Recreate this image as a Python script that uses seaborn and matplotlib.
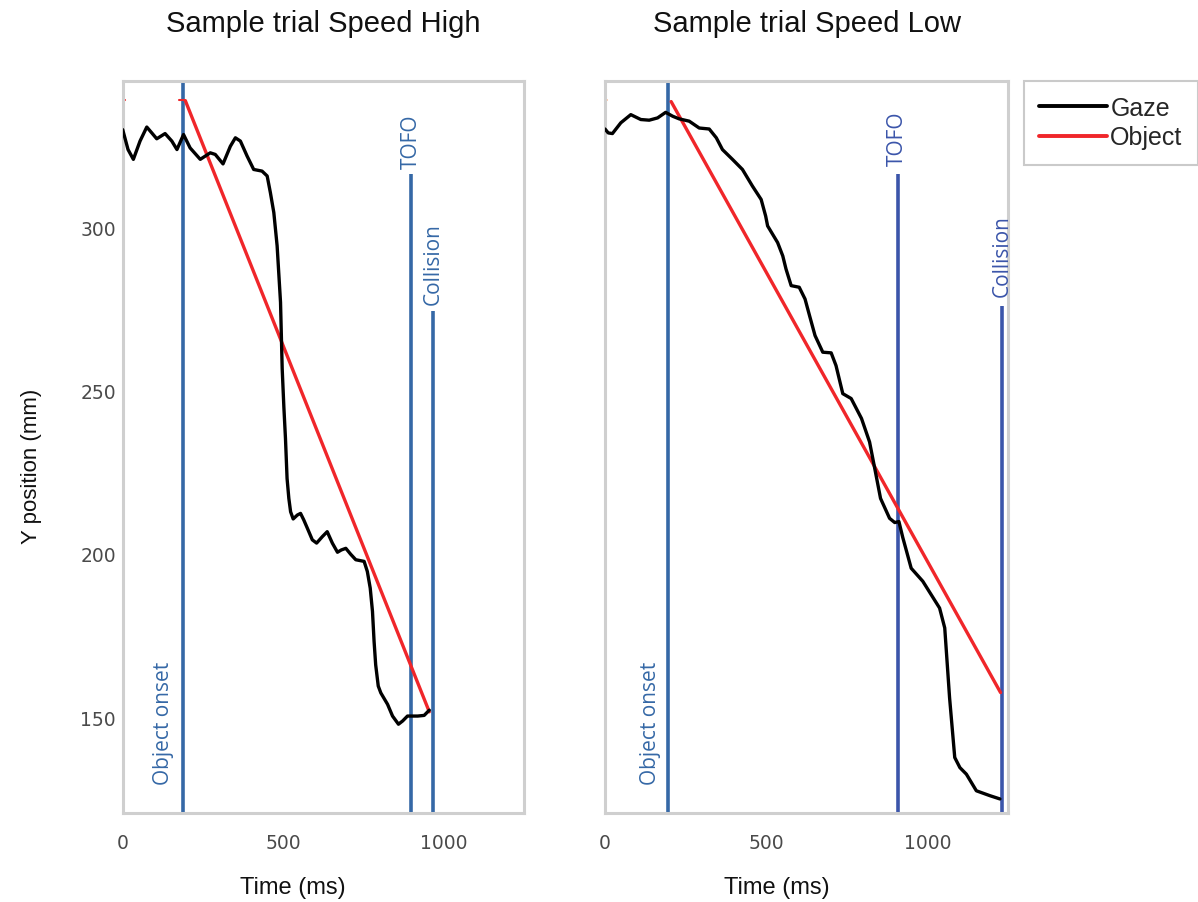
import numpy as np
import pandas as pd
import matplotlib
matplotlib.use("Agg")
import matplotlib.pyplot as plt
import seaborn as sns
from matplotlib.lines import Line2D

# ---------------- data ----------------
titles = ["Sample trial Speed High", "Sample trial Speed Low"]

gaze_high_t = [0, 16.6, 33.2, 54, 75, 90.6, 106, 132, 153, 169, 189.5, 210, 241.6, 272.8, 288.4, 312.5,
               335.3, 351, 366.6, 387.5, 408, 434, 450, 460, 470.7, 481, 491.6, 496.8, 502, 507, 512,
               517.5, 523, 531, 544, 554, 564, 575, 590.6, 604, 622, 637, 653, 669, 681, 695, 710, 726,
               752, 762, 771, 778, 783, 788, 796, 804, 825, 840.5, 859, 872, 887, 919, 939, 955]
gaze_high_y = [330.0, 323.9, 320.9, 326.5, 330.8, 329.0, 327.2, 328.8, 326.5, 323.9, 328.5, 324.4, 320.9,
               322.9, 322.4, 319.5, 324.9, 327.5, 326.5, 321.9, 317.8, 317.3, 315.8, 310.7, 304.6, 294.4,
               277.1, 256.7, 245, 235.4, 223.1, 217, 212.9, 210.7, 211.9, 212.4, 210.4, 207.9, 204.3,
               203.3, 205.3, 206.8, 203.3, 200.5, 201.2, 201.7, 199.9, 198.2, 197.7, 194.6, 189.5, 182.4,
               173.2, 166, 159.5, 157.4, 153.9, 150.3, 147.8, 148.8, 150.3, 150.3, 150.5, 152.1]

gaze_low_t = [0, 10, 23, 49, 80, 111, 137, 163, 188, 210, 230, 261, 292, 323, 345, 364, 395, 426, 457,
              484, 498, 504, 535, 551, 561, 577, 602, 620, 634, 651, 675, 701, 716, 737, 763, 795, 820,
              838, 854, 882, 898, 911, 923, 949, 985, 1037, 1053, 1068, 1084, 1100, 1120, 1151, 1193,
              1224]
gaze_low_y = [330.2, 329.0, 328.8, 332.1, 334.6, 333.1, 332.9, 333.6, 335.3, 334.1, 333.3, 332.6, 330.5,
              330.2, 327.5, 323.9, 320.9, 317.8, 312.7, 308.6, 303.5, 300.5, 295.4, 291.3, 287.3, 282.2,
              281.7, 278.1, 273.0, 266.9, 261.8, 261.6, 257.7, 249.1, 247.6, 241.5, 234.3, 225.2, 217.0,
              210.9, 209.6, 209.9, 205, 195.6, 191.6, 183.4, 177.3, 155.9, 137.6, 134.5, 132.5, 127.4,
              125.9, 124.9]

object_high_t = [195, 955]
object_high_y = [338.9, 151.6]
object_low_t = [205, 1226]
object_low_y = [338.6, 157.5]

event_names = ["Object onset", "TOFO", "Collision"]
events_high = [188, 898, 966]
events_low = [196, 907, 1229]

xticks = [0, 500, 1000]
yticks = [150, 200, 250, 300]

# ---------------- style ----------------
sns.set_theme(style="white")
plt.rcParams['font.family'] = ['Liberation Sans', 'DejaVu Sans']

W, H = 1198, 903
fig = plt.figure(figsize=(W / 100, H / 100), dpi=100)

ax_l = fig.add_axes([122.7 / W, 1 - 814.3 / H, 401.3 / W, 732.6 / H])
ax_r = fig.add_axes([605 / W, 1 - 814.3 / H, 403.3 / W, 732.6 / H])

gaze_col = "black"
obj_col = "#f0262a"
spine_col = "#cfcfcf"
event_col_l = "#3568a6"
event_col_r = ["#3568a6", "#3b55aa", "#3b55aa"]
label_font = "Open Sans"

panels = [
    (ax_l, gaze_high_t, gaze_high_y, object_high_t, object_high_y, events_high,
     [event_col_l] * 3, [(126, 129.5), (898, 318.3), (966, 276.6)], [None, 316.3, 274.5]),
    (ax_r, gaze_low_t, gaze_low_y, object_low_t, object_low_y, events_low,
     event_col_r, [(140, 129.5), (907, 319.3), (1230, 279)], [None, 316.3, 276]),
]

for i, (ax, gt, gy, ot, oy, ev, ecols, lblpos, ystarts) in enumerate(panels):
    ylo, yhi = 120.5, 345
    for name, x, c, (tx, ty), ys in zip(event_names, ev, ecols, lblpos, ystarts):
        top = yhi if ys is None else ys
        ax.plot([x, x], [ylo, top], color=c, lw=2.6, zorder=2, solid_capstyle="butt")
        ax.text(tx, ty, name, rotation=90, ha="center", va="bottom", color=c,
                fontsize=15, family=[label_font, 'DejaVu Sans'], clip_on=False)
    gdf = pd.DataFrame({"t": gt, "y": gy})
    odf = pd.DataFrame({"t": ot, "y": oy})
    sns.lineplot(data=odf, x="t", y="y", ax=ax, color=obj_col, lw=2.4, sort=False,
                 estimator=None, zorder=3)
    sns.lineplot(data=gdf, x="t", y="y", ax=ax, color=gaze_col, lw=2.4, sort=False,
                 estimator=None, zorder=4, solid_joinstyle="round")
    ax.set_xlim(0, 1250)
    ax.set_ylim(ylo, yhi)
    ax.set_xticks(xticks)
    ax.set_yticks(yticks)
    ax.tick_params(direction="in", length=6, width=1, color="#9a9a9a",
                   labelsize=13.5, labelcolor="#4a4a4a")
    for lab in ax.get_xticklabels() + ax.get_yticklabels():
        lab.set_family(['DejaVu Sans'])
    ax.tick_params(axis="x", pad=14)
    ax.tick_params(axis="y", pad=5)
    for sp in ax.spines.values():
        sp.set_visible(True)
        sp.set_color(spine_col)
        sp.set_linewidth(2.2)
    ax.set_title(titles[i], fontsize=21, pad=36, color="#111111")
    ax.set_xlabel("Time (ms)", fontsize=17, color="#111111")
    ax.xaxis.set_label_coords(0.425, -0.085)
    if i == 0:
        ax.set_ylabel("Y position (mm)", fontsize=16, color="#111111")
        ax.yaxis.set_label_coords(-0.2, 0.475)
    else:
        ax.set_ylabel("")
        ax.set_yticklabels([])

# small red start marks of the object trace
ax_l.plot([0, 8], [339, 339], color=obj_col, lw=1.5)
ax_l.plot([175, 190], [339, 339], color=obj_col, lw=1.5)
ax_r.plot([0, 5], [339, 339], color="#f6a070", lw=1.2)

handles = [Line2D([], [], color=gaze_col, lw=2.8), Line2D([], [], color=obj_col, lw=2.8)]
leg = fig.legend(handles, ["Gaze", "Object"], loc="upper left",
                 bbox_to_anchor=(1024 / W, 1 - 82 / H), fontsize=18,
                 handlelength=2.7, handletextpad=0.15, frameon=True, fancybox=False,
                 borderpad=0.6, labelspacing=0.22, borderaxespad=0)
leg.get_frame().set_edgecolor("#bdbdbd")
leg.get_frame().set_linewidth(1.5)

fig.savefig("out.png", dpi=100)
